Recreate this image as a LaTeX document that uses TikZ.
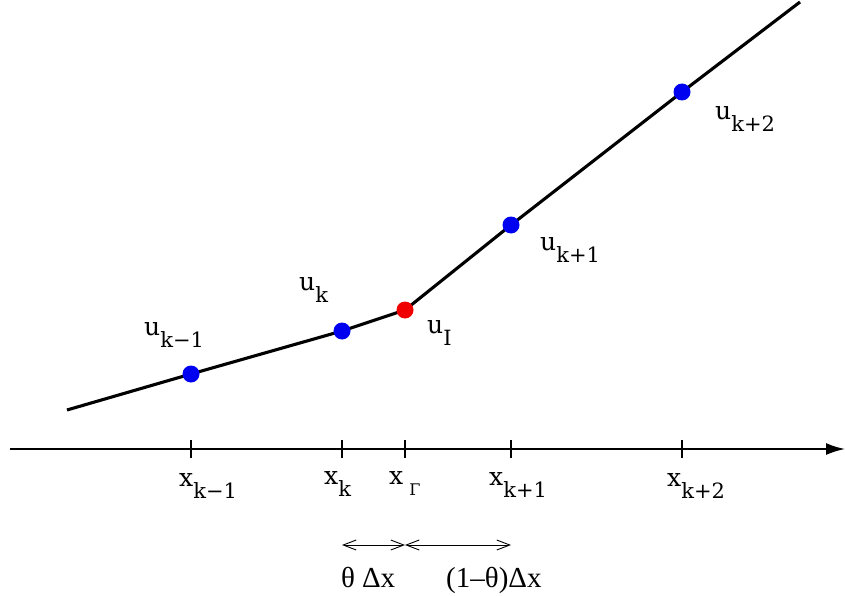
\documentclass[tikz,border=0pt]{standalone}
\usepackage{amsmath}
\usepackage{fontspec}
\usepackage{tikz}
\usetikzlibrary{arrows.meta,positioning,calc}
\newfontfamily\timesfont{Liberation Serif}
\newfontfamily\labfont{DejaVu Serif}
\definecolor{dotblue}{RGB}{0, 0, 240}
\definecolor{dotred}{RGB}{240, 0, 0}
% letter with a lowered index
\newcommand{\idx}[2]{#1\raisebox{-12pt}{\fontsize{21}{23}\selectfont #2}}

\begin{document}
\begin{tikzpicture}[
    x=1pt, y=-1pt,
    dot/.style={circle, fill=dotblue, inner sep=0pt, minimum size=17pt},
    lbl/.style={font=\labfont\fontsize{25}{27}\selectfont, inner sep=0pt, anchor=base west},
    tick/.style={line width=1.6pt},
    gap/.style={{Straight Barb[length=13pt,width=10pt]}-{Straight Barb[length=13pt,width=10pt]}, line width=0.9pt}
]
    \useasboundingbox (0,0) rectangle (845,596);

    % grid points on the axis
    \coordinate (xKm1) at (191,449);
    \coordinate (xK)   at (342,449);
    \coordinate (xG)   at (405,449);
    \coordinate (xKp1) at (511,449);
    \coordinate (xKp2) at (682,449);

    % Axis
    \coordinate (axL) at (10,449);
    \coordinate (axR) at (845,449);
    \draw[line width=1.9pt, -{Latex[length=19pt,width=12pt]}] (axL) -- (axR);

    % Ticks and labels
    \foreach \p in {xKm1, xK, xG, xKp1, xKp2}
        \draw[tick] ($(\p)+(0,-9)$) -- ($(\p)+(0,9)$);
    \node[lbl] (labKm1) at ($(xKm1)+(-12,37)$) {\idx{x}{k−1}};
    \node[lbl] (labK)   at ($(xK)+(-18,35)$)   {\idx{x}{k}};
    \node[lbl] (labG)   at ($(xG)+(-16,35)$)   {x\hspace{6pt}\raisebox{-11pt}{\fontsize{16}{17}\selectfont Γ}};
    \node[lbl] (labKp1) at ($(xKp1)+(-22,36)$) {\idx{x}{k+1}};
    \node[lbl] (labKp2) at ($(xKp2)+(-15,37)$) {\idx{x}{k+2}};

    % Solution values
    \coordinate (pL)   at (67,410);
    \coordinate (pKm1) at (191,374);
    \coordinate (pK)   at (342,331);
    \coordinate (pI)   at (405,310);
    \coordinate (pKp1) at (511,225);
    \coordinate (pKp2) at (682,92);
    \coordinate (pR)   at (800,2);
    \draw[line width=3.1pt] (pL) -- (pKm1) -- (pK) -- (pI) -- (pKp1) -- (pKp2) -- (pR);

    \node[dot] (uKm1) at (pKm1) {};
    \node[dot] (uK)   at (pK) {};
    \node[dot, fill=dotred] (uI) at (pI) {};
    \node[dot] (uKp1) at (pKp1) {};
    \node[dot] (uKp2) at (pKp2) {};

    \node[lbl] at ($(uKm1)+(-47,-39)$) {\idx{u}{k−1}};
    \node[lbl] at ($(uK)+(-43,-41)$)   {\idx{u}{k}};
    \node[lbl] at ($(uI)+(22,23)$)     {\idx{u}{I}};
    \node[lbl] at ($(uKp1)+(29,25)$)   {\idx{u}{k+1}};
    \node[lbl] at ($(uKp2)+(33,28)$)   {\idx{u}{k+2}};

    % Cell fractions
    \coordinate (gK)   at (342,545);
    \coordinate (gG)   at (405,545);
    \coordinate (gKp1) at (511,545);
    \draw[gap] (gK) -- (gG);
    \draw[gap] (gG) -- (gKp1);
    \node[lbl, font=\timesfont\fontsize{29}{31}\selectfont] (th) at (341,587) {θ\hspace{7pt}Δx};
    \node[lbl, font=\timesfont\fontsize{29}{31}\selectfont] (omth) at (446,587) {(1–θ)Δx};
\end{tikzpicture}
\end{document}
